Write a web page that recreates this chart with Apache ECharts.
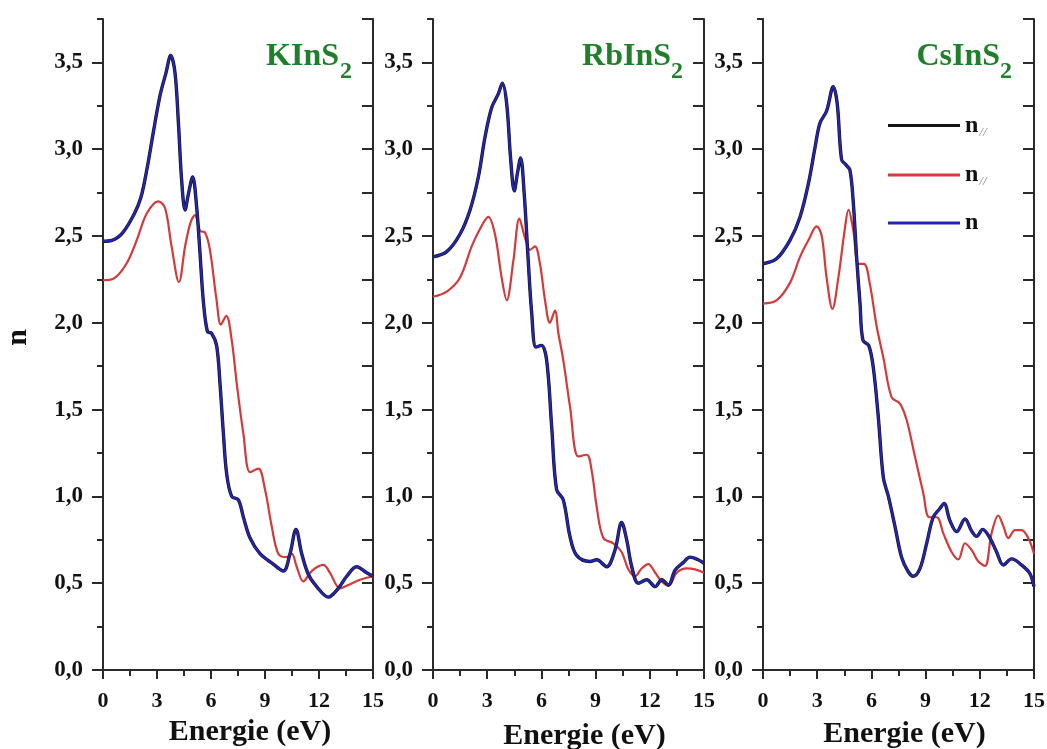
<!DOCTYPE html>
<html>
<head>
<meta charset="utf-8">
<script src="https://cdn.jsdelivr.net/npm/echarts@6/dist/echarts.min.js"></script>
<style>
  html, body { margin: 0; padding: 0; background: #ffffff; }
  #chart { width: 1047px; height: 749px; }
</style>
</head>
<body>
<div id="chart"></div>
<script>
// Refractive index n versus photon energy for three AInS2 compounds.

const energyTicks = [0, 3, 6, 9, 12, 15];
const nTickValues = [0, 0.5, 1, 1.5, 2, 2.5, 3, 3.5];
const nTickLabels = ['0,0', '0,5', '1,0', '1,5', '2,0', '2,5', '3,0', '3,5'];
const compoundNames = ['KInS', 'RbInS', 'CsInS'];   // each followed by a subscript 2

// KInS2 : [energy (eV), n]
const kinsN = [[0,2.47],[0.5,2.475],[1.1,2.52],[1.7,2.62],[2.1,2.72],[2.45,2.89],[2.8,3.1],[3.17,3.31],[3.5,3.44],[3.76,3.54],[4.0,3.44],[4.19,3.15],[4.37,2.82],[4.56,2.65],[4.74,2.74],[4.98,2.84],[5.2,2.67],[5.39,2.40],[5.57,2.13],[5.8,1.95],[6.03,1.94],[6.31,1.87],[6.5,1.65],[6.69,1.36],[6.87,1.13],[7.15,1.0],[7.52,0.98],[7.8,0.88],[8.17,0.76],[8.72,0.67],[9.46,0.61],[10.02,0.57],[10.39,0.67],[10.72,0.81],[11.04,0.67],[11.41,0.55],[11.87,0.48],[12.52,0.42],[13.07,0.47],[13.54,0.54],[14.09,0.595],[14.65,0.56],[15,0.54]];
const kinsNperp = [[0,2.245],[0.6,2.255],[1.3,2.34],[1.87,2.475],[2.43,2.63],[3.07,2.70],[3.45,2.66],[3.81,2.44],[4.22,2.235],[4.56,2.44],[4.87,2.58],[5.11,2.62],[5.39,2.53],[5.67,2.52],[5.94,2.42],[6.31,2.13],[6.55,1.99],[6.85,2.04],[7.15,1.90],[7.43,1.65],[7.8,1.36],[8.17,1.14],[8.63,1.16],[9.0,1.04],[9.37,0.83],[9.74,0.67],[10.2,0.65],[10.48,0.67],[10.76,0.595],[11.13,0.51],[11.59,0.57],[12.24,0.605],[12.61,0.56],[13.17,0.47],[13.63,0.49],[14.28,0.52],[15,0.54]];

// RbInS2
const rbinsN = [[0,2.38],[0.76,2.41],[1.49,2.51],[2.05,2.65],[2.51,2.84],[2.88,3.07],[3.25,3.24],[3.62,3.32],[3.84,3.38],[4.08,3.26],[4.3,2.94],[4.5,2.76],[4.67,2.86],[4.85,2.95],[5.05,2.74],[5.27,2.36],[5.46,2.06],[5.7,1.86],[6.0,1.87],[6.29,1.785],[6.57,1.40],[6.84,1.04],[7.21,0.98],[7.58,0.77],[7.95,0.66],[8.69,0.625],[9.06,0.635],[9.61,0.595],[10.07,0.69],[10.44,0.85],[10.72,0.75],[11.0,0.595],[11.37,0.50],[11.83,0.52],[12.3,0.48],[12.66,0.52],[13.03,0.49],[13.4,0.575],[13.86,0.62],[14.22,0.65],[14.68,0.635],[15,0.615]];
const rbinsNperp = [[0,2.15],[0.76,2.18],[1.49,2.26],[2.14,2.44],[2.6,2.54],[3.06,2.61],[3.43,2.51],[3.8,2.26],[4.08,2.13],[4.45,2.36],[4.78,2.60],[5.09,2.49],[5.37,2.42],[5.64,2.44],[5.92,2.34],[6.2,2.13],[6.47,2.0],[6.75,2.07],[6.94,1.94],[7.21,1.785],[7.58,1.52],[8.04,1.23],[8.51,1.24],[8.78,1.15],[9.06,0.94],[9.43,0.76],[9.98,0.73],[10.44,0.68],[10.81,0.58],[11.18,0.54],[11.55,0.585],[11.92,0.61],[12.3,0.56],[12.66,0.51],[13.03,0.485],[13.49,0.56],[14.04,0.585],[14.5,0.58],[15,0.56]];

// CsInS2
const csinsN = [[0,2.34],[0.76,2.37],[1.49,2.475],[2.05,2.61],[2.51,2.80],[2.88,3.01],[3.15,3.15],[3.52,3.22],[3.89,3.36],[4.11,3.26],[4.35,2.94],[4.59,2.91],[4.81,2.88],[5.0,2.69],[5.18,2.38],[5.37,2.11],[5.53,1.90],[5.85,1.87],[6.1,1.746],[6.38,1.46],[6.66,1.11],[6.94,1.0],[7.31,0.825],[7.67,0.65],[8.04,0.566],[8.32,0.54],[8.69,0.585],[9.06,0.73],[9.42,0.88],[9.79,0.93],[10.02,0.96],[10.35,0.86],[10.72,0.797],[11.18,0.87],[11.55,0.80],[11.82,0.77],[12.16,0.81],[12.56,0.76],[12.93,0.68],[13.3,0.605],[13.76,0.64],[14.31,0.605],[14.77,0.556],[15,0.48]];
const csinsNperp = [[0,2.11],[0.76,2.13],[1.49,2.23],[2.05,2.38],[2.51,2.475],[2.97,2.556],[3.25,2.50],[3.52,2.26],[3.84,2.08],[4.17,2.26],[4.54,2.55],[4.73,2.65],[5.0,2.53],[5.28,2.34],[5.59,2.34],[5.92,2.22],[6.29,1.98],[6.66,1.80],[7.12,1.57],[7.58,1.535],[7.95,1.44],[8.41,1.23],[8.87,1.02],[9.2,0.88],[9.61,0.88],[9.98,0.787],[10.44,0.68],[10.81,0.637],[11.18,0.73],[11.55,0.69],[11.92,0.625],[12.29,0.60],[12.65,0.787],[13.02,0.89],[13.3,0.83],[13.58,0.76],[13.95,0.806],[14.31,0.806],[14.68,0.76],[15,0.67]];

// n-parallel runs along n and is drawn underneath it
const panelData = [
  { par: kinsN,  perp: kinsNperp,  n: kinsN },
  { par: rbinsN, perp: rbinsNperp, n: rbinsN },
  { par: csinsN, perp: csinsNperp, n: csinsN }
];

const FONT = '"Liberation Serif", "Times New Roman", serif';
const AXIS = '#2a2a2a';
const TEXT = '#111111';
const COLORS = { par: '#151515', perp: '#d43a3a', n: '#2424b4' };

// panel geometry (pixels)
const panels = [
  { left: 103, width: 270, titleRight: 708, subRight: 695, nameGap: 47, namePad: 24 },
  { left: 433, width: 271, titleRight: 376, subRight: 364, nameGap: 51, namePad: 32 },
  { left: 763, width: 271, titleRight: 47,  subRight: 35,  nameGap: 49, namePad: 12 }
];
const GRID_TOP = 19, GRID_H = 651;

const grids = [], xAxes = [], yAxes = [], series = [], titles = [];
const axisLine = { show: true, lineStyle: { color: AXIS, width: 2 } };
const tickStyle = { color: AXIS, width: 2 };

panels.forEach((p, i) => {
  grids.push({ left: p.left, top: GRID_TOP, width: p.width, height: GRID_H, containLabel: false, outerBoundsMode: 'none' });

  // bottom energy axis
  xAxes.push({
    type: 'value', gridIndex: i, position: 'bottom', min: 0, max: 15, interval: 3,
    axisLine: axisLine,
    axisTick: { show: true, length: 9, lineStyle: tickStyle },
    minorTick: { show: true, splitNumber: 2, length: 5, lineStyle: tickStyle },
    splitLine: { show: false },
    axisLabel: {
      margin: 20, color: TEXT, fontFamily: FONT, fontWeight: 'bold', fontSize: 22,
      formatter: v => energyTicks.includes(v) ? String(v) : ''
    },
    name: 'Energie (eV)', nameLocation: 'middle', nameGap: p.nameGap,
    nameTextStyle: { color: TEXT, fontFamily: FONT, fontWeight: 'bold', fontSize: 30, padding: [0, 0, 0, p.namePad] }
  });
  // top frame with inward ticks
  xAxes.push({
    type: 'value', gridIndex: i, position: 'top', min: 0, max: 15, interval: 1.5,
    axisLine: axisLine,
    axisTick: { show: true, inside: true, length: 6, lineStyle: tickStyle },
    axisLabel: { show: false }, splitLine: { show: false }
  });

  // left n axis: labels and major ticks
  const yLeft = {
    type: 'value', gridIndex: i, position: 'left', min: 0, max: 3.75, interval: 0.5,
    axisLine: axisLine,
    axisTick: { show: true, length: 11, lineStyle: tickStyle, customValues: nTickValues },
    splitLine: { show: false },
    axisLabel: {
      margin: 20, color: TEXT, fontFamily: FONT, fontWeight: 'bold', fontSize: 23,
      customValues: nTickValues,
      formatter: v => {
        const k = nTickValues.findIndex(t => Math.abs(t - v) < 1e-6);
        return k >= 0 ? nTickLabels[k] : '';
      }
    }
  };
  if (i === 0) {
    yLeft.name = 'n';
    yLeft.nameLocation = 'middle';
    yLeft.nameGap = 70;
    yLeft.nameTextStyle = { color: TEXT, fontFamily: FONT, fontWeight: 'bold', fontSize: 30, padding: [0, 0, 0, 14] };
  }
  yAxes.push(yLeft);
  // left n axis: minor ticks
  yAxes.push({
    type: 'value', gridIndex: i, position: 'left', min: 0, max: 3.75, interval: 0.25,
    axisLine: { show: false },
    axisTick: { show: true, length: 6, lineStyle: tickStyle },
    axisLabel: { show: false }, splitLine: { show: false }
  });
  // right frame with inward ticks
  yAxes.push({
    type: 'value', gridIndex: i, position: 'right', min: 0, max: 3.75, interval: 0.25,
    axisLine: axisLine,
    axisTick: { show: true, inside: true, length: 11, lineStyle: tickStyle },
    axisLabel: { show: false }, splitLine: { show: false }
  });

  const xi = i * 2, yi = i * 3;
  const d = panelData[i];
  const line = (name, data, color, width, z) => ({
    name, type: 'line', xAxisIndex: xi, yAxisIndex: yi, data,
    smooth: 0.35, showSymbol: false, symbol: 'none', z,
    lineStyle: { color, width }, itemStyle: { color }, emphasis: { disabled: true }
  });
  series.push(line('n⊥', d.perp, COLORS.perp, 2.2, 2));
  series.push(line('n∥', d.par, COLORS.par, 3.4, 3));
  series.push(line('n', d.n, COLORS.n, 2.2, 4));

  titles.push({
    text: compoundNames[i], right: p.titleRight, top: 41, padding: 0,
    textStyle: { color: '#1f7f2a', fontFamily: FONT, fontWeight: 'bold', fontSize: 32, lineHeight: 32 }
  });
  titles.push({
    text: '2', right: p.subRight, top: 60, padding: 0,
    textStyle: { color: '#1f7f2a', fontFamily: FONT, fontWeight: 'bold', fontSize: 24, lineHeight: 24 }
  });
});

const legendText = { 'n∥': '{n|n}{s|//}', 'n⊥': '{n|n}{s|//}', 'n': '{n|n}' };

const option = {
  backgroundColor: '#ffffff',
  animation: false,
  title: titles,
  grid: grids,
  xAxis: xAxes,
  yAxis: yAxes,
  legend: {
    data: ['n∥', 'n⊥', 'n'],
    orient: 'vertical', left: 888, top: 112, padding: 0,
    icon: 'rect', itemWidth: 72, itemHeight: 3, itemGap: 22.5,
    selectedMode: false,
    formatter: name => legendText[name],
    textStyle: {
      rich: {
        n: { fontFamily: FONT, fontWeight: 'bold', fontSize: 24, color: TEXT, lineHeight: 24 },
        s: { fontFamily: FONT, fontStyle: 'italic', fontSize: 13, color: '#8a8a8a', padding: [14, 0, 0, 1], lineHeight: 12 }
      }
    }
  },
  series: series
};

const chart = echarts.init(document.getElementById('chart'), null, { renderer: 'canvas' });
chart.setOption(option);
</script>
</body>
</html>
